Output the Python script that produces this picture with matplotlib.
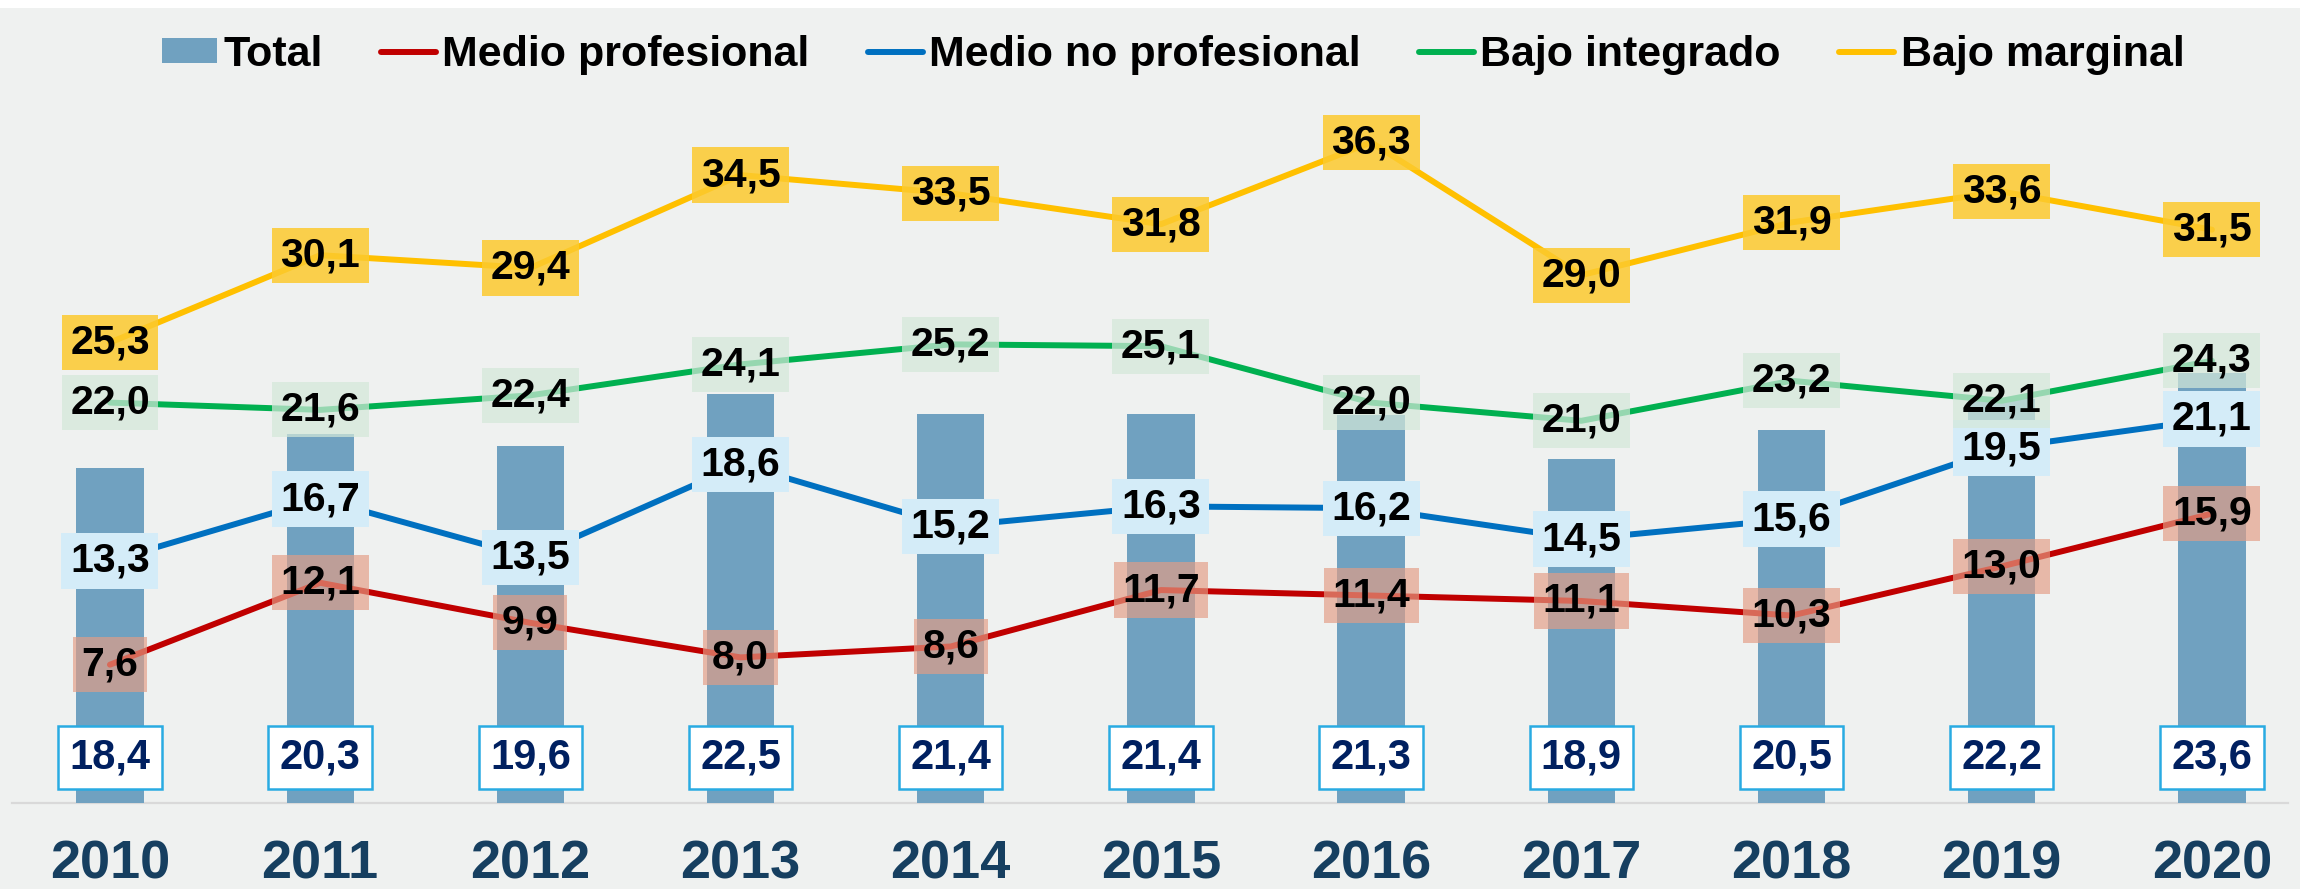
import matplotlib
matplotlib.use("Agg")
import matplotlib.pyplot as plt
from matplotlib.patches import Rectangle

# ---------------------------------------------------------------------
# Data
# ---------------------------------------------------------------------

years = ["2010", "2011", "2012", "2013", "2014", "2015",
         "2016", "2017", "2018", "2019", "2020"]

total = [18.4, 20.3, 19.6, 22.5, 21.4, 21.4, 21.3, 18.9, 20.5, 22.2, 23.6]
medio_profesional = [7.6, 12.1, 9.9, 8.0, 8.6, 11.7, 11.4, 11.1, 10.3, 13.0, 15.9]
medio_no_profesional = [13.3, 16.7, 13.5, 18.6, 15.2, 16.3, 16.2, 14.5, 15.6, 19.5, 21.1]
bajo_integrado = [22.0, 21.6, 22.4, 24.1, 25.2, 25.1, 22.0, 21.0, 23.2, 22.1, 24.3]
bajo_marginal = [25.3, 30.1, 29.4, 34.5, 33.5, 31.8, 36.3, 29.0, 31.9, 33.6, 31.5]

series_names = ["Medio profesional", "Medio no profesional",
                "Bajo integrado", "Bajo marginal"]

# ---------------------------------------------------------------------
# Style
# ---------------------------------------------------------------------

BG = "#eff1f0"
BAR_COLOR = "#70a1c0"
LINE_COLORS = ["#c00000", "#0070c0", "#00b050", "#ffc000"]
BOX_COLORS = ["#e49d85", "#d4ecf8", "#d4e8d9", "#fcca2e"]
BOX_ALPHAS = [0.67, 1.0, 0.71, 0.85]

plt.rcParams["font.family"] = ["Liberation Sans", "DejaVu Sans"]
plt.rcParams["font.weight"] = "bold"


def fmt(v):
    return f"{v:.1f}".replace(".", ",")


# ---------------------------------------------------------------------
# Plot
# ---------------------------------------------------------------------

fig = plt.figure(figsize=(23, 8.89), dpi=100, facecolor=BG)
fig.patches.append(Rectangle((0, 1 - 8 / 889), 1, 8 / 889, transform=fig.transFigure,
                             facecolor="white", edgecolor="none", zorder=-10))

ax = fig.add_axes([12 / 2300, 86 / 889, 2276 / 2300, 728 / 889])
ax.set_facecolor("none")

x = list(range(len(years)))

bars = ax.bar(x, total, width=0.32, color=BAR_COLOR, zorder=1, label="Total")

for xi in x:
    ax.text(xi, 2.5, fmt(total[xi]), ha="center", va="center",
            fontsize=30, fontweight="bold", color="#002060", zorder=6,
            bbox=dict(boxstyle="square,pad=0.27", facecolor="white",
                      edgecolor="#29abe2", linewidth=1.8))

all_series = [medio_profesional, medio_no_profesional, bajo_integrado, bajo_marginal]
handles = [bars]
for i, values in enumerate(all_series):
    line, = ax.plot(x, values, color=LINE_COLORS[i], linewidth=4.3,
                    solid_capstyle="round", zorder=2 + i * 0.1,
                    label=series_names[i])
    handles.append(line)

for i, values in enumerate(all_series):
    for xi, v in zip(x, values):
        ax.text(xi, v, fmt(v), ha="center", va="center",
                fontsize=29.5, fontweight="bold", color="black", zorder=3 + i * 0.1,
                bbox=dict(boxstyle="square,pad=0.21", facecolor=BOX_COLORS[i],
                          edgecolor="none", alpha=BOX_ALPHAS[i]))

ax.set_xlim(-0.466, 10.362)
ax.set_ylim(0, 40)
ax.set_yticks([])
ax.set_xticks(x)
ax.set_xticklabels(years, fontsize=39, fontweight="bold", color="#163f60")
ax.tick_params(axis="x", length=0, pad=26)

for side in ["top", "left", "right"]:
    ax.spines[side].set_visible(False)
ax.spines["bottom"].set_color("#d9d9d9")
ax.spines["bottom"].set_linewidth(1.6)
ax.spines["bottom"].set_zorder(0.5)

fig.legend(handles=handles, labels=["Total"] + series_names,
           loc="center", bbox_to_anchor=(0.51, 1 - 55 / 889), ncol=5,
           frameon=False, prop={"size": 31, "weight": "bold"},
           handlelength=1.28, handleheight=0.5, handletextpad=0.15,
           columnspacing=1.35)

fig.savefig("out.png", dpi=100, facecolor=BG)
